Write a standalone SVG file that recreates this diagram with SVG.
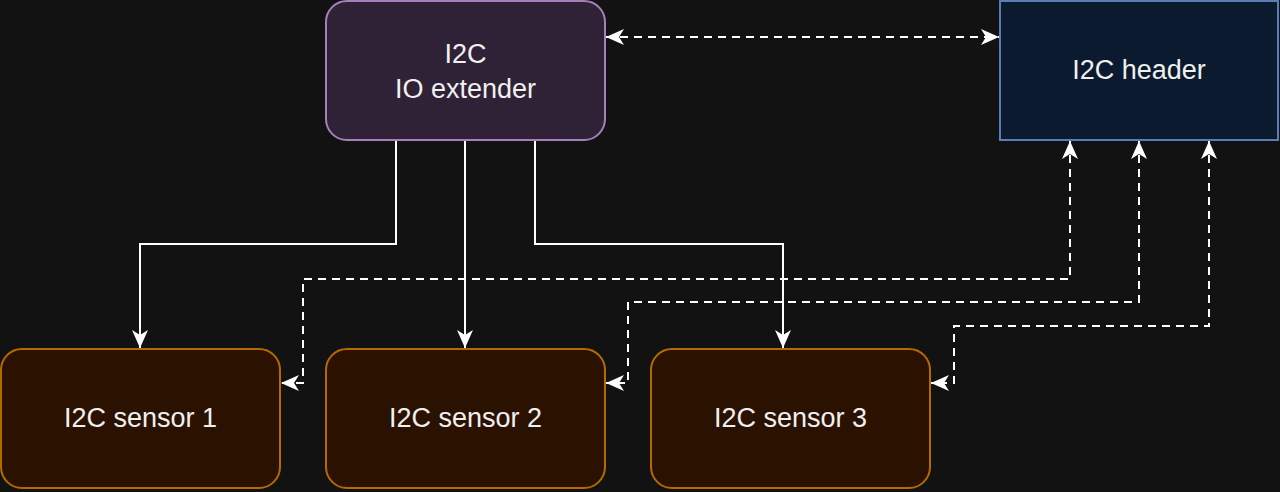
<svg xmlns="http://www.w3.org/2000/svg" width="1280" height="492" viewBox="0 0 1280 492">
<style>
.lbl{font-family:"Liberation Sans",Arial,Helvetica,sans-serif;font-size:27px;fill:#f0f0f0;text-anchor:middle}
.sol{fill:none;stroke:#ffffff;stroke-width:2}
.dash{fill:none;stroke:#ffffff;stroke-width:2;stroke-dasharray:8 6}
.ext{fill:#302236;stroke:#a680b8;stroke-width:2}
.hdr{fill:#0b1a2e;stroke:#5a7db5;stroke-width:2}
.sen{fill:#2b1200;stroke:#b56a00;stroke-width:2}
</style>
<defs>
<marker id="arr" markerUnits="userSpaceOnUse" markerWidth="20" markerHeight="20" viewBox="0 0 20 20" refX="19" refY="10" orient="auto-start-reverse">
<path d="M19,10 L1,2 L6,10 L1,18 Z" fill="#ffffff"/>
</marker>
</defs>
<rect width="1280" height="492" fill="#121212"/>
<g id="connectors">
<path class="sol" d="M396,141 V244 H140 V348" marker-end="url(#arr)"/>
<path class="sol" d="M465,141 V348" marker-end="url(#arr)"/>
<path class="sol" d="M535,141 V244 H783 V348" marker-end="url(#arr)"/>
<path class="dash" d="M606,37 H999" marker-start="url(#arr)" marker-end="url(#arr)"/>
<path class="dash" d="M1070,141 V279 H303 V383 H281" marker-start="url(#arr)" marker-end="url(#arr)"/>
<path class="dash" d="M1139,141 V302 H628 V383 H606" marker-start="url(#arr)" marker-end="url(#arr)"/>
<path class="dash" d="M1209,141 V326 H954 V383 H931" marker-start="url(#arr)" marker-end="url(#arr)"/>
</g>
<g id="io-extender">
<rect class="ext" x="326" y="1" width="279" height="139" rx="21" ry="21"/>
<text class="lbl" x="465.5" y="63">I2C</text>
<text class="lbl" x="465.5" y="98">IO extender</text>
</g>
<g id="i2c-header">
<rect class="hdr" x="1000" y="1" width="278" height="139"/>
<text class="lbl" x="1139" y="79">I2C header</text>
</g>
<g id="sensor-1">
<rect class="sen" x="1" y="349" width="279" height="139" rx="21" ry="21"/>
<text class="lbl" x="140.5" y="427">I2C sensor 1</text>
</g>
<g id="sensor-2">
<rect class="sen" x="326" y="349" width="279" height="139" rx="21" ry="21"/>
<text class="lbl" x="465.5" y="427">I2C sensor 2</text>
</g>
<g id="sensor-3">
<rect class="sen" x="651" y="349" width="279" height="139" rx="21" ry="21"/>
<text class="lbl" x="790.5" y="427">I2C sensor 3</text>
</g>
</svg>
